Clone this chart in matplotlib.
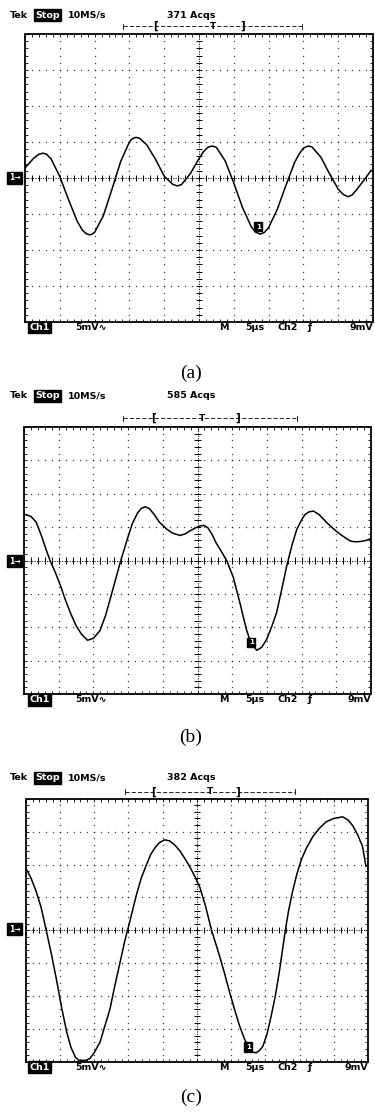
import matplotlib
matplotlib.use("Agg")
import matplotlib.pyplot as plt
import numpy as np

# ---------------- data (divisions: x 0..10, y -4..4) ----------------
xs_a = [0, 0.25, 0.4, 0.52, 0.62, 0.75, 1.0, 1.25, 1.5, 1.65, 1.75, 1.86, 1.93, 2.0, 2.25, 2.5,
        2.75, 3.0, 3.08, 3.19, 3.3, 3.5, 3.75, 4.0, 4.25, 4.38, 4.5, 4.75, 5.0, 5.12, 5.25,
        5.38, 5.5, 5.75, 6.0, 6.25, 6.5, 6.62, 6.76, 6.88, 7.0, 7.25, 7.5, 7.75, 7.88, 8.0,
        8.14, 8.25, 8.5, 8.75, 9.0, 9.15, 9.29, 9.4, 9.5, 9.75, 9.95]
ys_a = [0.28, 0.55, 0.66, 0.69, 0.66, 0.53, 0.04, -0.60, -1.20, -1.45, -1.54, -1.58, -1.56, -1.51, -1.05, -0.31,
        0.46, 1.00, 1.09, 1.13, 1.10, 0.92, 0.52, 0.05, -0.18, -0.22, -0.18, 0.12, 0.54, 0.72, 0.85,
        0.89, 0.85, 0.48, -0.14, -0.82, -1.35, -1.50, -1.56, -1.51, -1.38, -0.87, -0.20, 0.44, 0.67, 0.83,
        0.89, 0.86, 0.58, 0.12, -0.31, -0.46, -0.52, -0.47, -0.36, -0.05, 0.22]

xs_b = [0.03, 0.2, 0.35, 0.5, 0.62, 0.75, 0.9, 1.05, 1.2, 1.35, 1.5, 1.65, 1.83, 2.0, 2.19, 2.35,
        2.48, 2.63, 2.79, 2.98, 3.12, 3.27, 3.38, 3.49, 3.62, 3.75, 3.9, 4.1, 4.28, 4.5, 4.65,
        4.77, 4.95, 5.08, 5.19, 5.3, 5.42, 5.53, 5.7, 5.84, 6.03, 6.22, 6.41, 6.55, 6.71, 6.85,
        6.99, 7.15, 7.28, 7.42, 7.57, 7.72, 7.86, 8.0, 8.1, 8.22, 8.34, 8.5, 8.73, 8.95, 9.12,
        9.3, 9.41, 9.55, 9.7, 9.85, 9.99]
ys_b = [1.38, 1.32, 1.15, 0.75, 0.38, 0.0, -0.35, -0.75, -1.2, -1.6, -1.95, -2.2, -2.39, -2.33, -2.1, -1.65,
        -1.17, -0.6, 0.0, 0.65, 1.1, 1.42, 1.56, 1.61, 1.55, 1.38, 1.15, 0.95, 0.82, 0.75, 0.8,
        0.88, 0.98, 1.04, 1.05, 0.98, 0.78, 0.54, 0.25, 0.0, -0.5, -1.26, -2.07, -2.5, -2.69, -2.6,
        -2.37, -1.95, -1.56, -0.9, -0.17, 0.45, 0.93, 1.22, 1.38, 1.46, 1.48, 1.38, 1.13, 0.92, 0.78,
        0.65, 0.58, 0.56, 0.57, 0.6, 0.65]

xs_c = [0.03, 0.15, 0.3, 0.45, 0.6, 0.75, 0.9, 1.05, 1.2, 1.32, 1.45, 1.55, 1.75, 1.87, 2.0, 2.17,
        2.3, 2.46, 2.6, 2.75, 2.9, 3.0, 3.12, 3.24, 3.38, 3.53, 3.65, 3.77, 3.9, 4.06, 4.2, 4.35,
        4.5, 4.65, 4.79, 4.95, 5.09, 5.25, 5.43, 5.55, 5.67, 5.82, 5.96, 6.1, 6.25, 6.4, 6.54,
        6.63, 6.73, 6.83, 6.93, 7.05, 7.17, 7.3, 7.42, 7.57, 7.68, 7.8, 7.92, 8.05, 8.2, 8.39,
        8.58, 8.78, 9.0, 9.26, 9.42, 9.56, 9.7, 9.84, 9.94]
ys_c = [1.84, 1.6, 1.2, 0.7, 0.0, -0.72, -1.5, -2.35, -3.1, -3.55, -3.85, -3.95, -3.95, -3.9, -3.72, -3.4,
        -2.95, -2.4, -1.7, -1.0, -0.3, 0.1, 0.6, 1.1, 1.6, 2.0, 2.3, 2.5, 2.66, 2.75, 2.72, 2.6,
        2.42, 2.18, 1.94, 1.62, 1.3, 0.75, 0.0, -0.4, -0.8, -1.35, -1.89, -2.4, -2.91, -3.32, -3.6,
        -3.7, -3.72, -3.65, -3.52, -3.15, -2.61, -1.95, -1.19, -0.1, 0.6, 1.2, 1.7, 2.14, 2.5, 2.85,
        3.1, 3.3, 3.4, 3.45, 3.35, 3.17, 2.9, 2.55, 1.94]

acqs = ["371 Acqs", "585 Acqs", "382 Acqs"]
captions = ["(a)", "(b)", "(c)"]

# ---------------- layout (pixels) ----------------
W, H = 375, 1115
fig = plt.figure(figsize=(W / 100, H / 100), dpi=100)
fig.patch.set_facecolor("white")
ov = fig.add_axes([0, 0, 1, 1], zorder=5)
ov.set_xlim(0, W); ov.set_ylim(H, 0); ov.axis("off")
ov.patch.set_alpha(0)

panels = [
    dict(xs=xs_a, ys=ys_a, box=(25, 34, 373, 322), tek=15, brk=26,
         brk_pos=(123, 155, 213, 243, 302), bot=327.5, cap=373, cur=(6.7, -1.35), gnd=178),
    dict(xs=xs_b, ys=ys_b, box=(24, 427, 371, 694), tek=396, brk=418,
         brk_pos=(123, 153, 202, 238, 297), bot=700, cap=737, cur=(6.55, -2.45), gnd=561),
    dict(xs=xs_c, ys=ys_c, box=(25.7, 798.7, 368, 1062), tek=778, brk=791.5,
         brk_pos=(125, 153, 210, 238, 295), bot=1067, cap=1097, cur=(6.5, -3.55), gnd=929),
]

hdr_kw = dict(fontsize=6.8, fontweight="bold", family=["DejaVu Sans"], va="center")

for i, p in enumerate(panels):
    l, t, r, b = p["box"]
    ax = fig.add_axes([l / W, 1 - b / H, (r - l) / W, (b - t) / H])
    ax.set_xlim(0, 10); ax.set_ylim(-4, 4); ax.axis("off")
    ax.patch.set_alpha(0)
    # frame
    ax.plot([0, 10, 10, 0, 0], [-4, -4, 4, 4, -4], color="black", lw=1.3,
            clip_on=False, solid_joinstyle="miter")
    fine_x = np.arange(0, 10.01, 0.2)
    fine_y = np.arange(-4, 4.01, 0.2)
    # frame ticks (inward)
    ax.vlines(fine_x, 4 - 0.09, 4, color="black", lw=0.6)
    ax.vlines(fine_x, -4, -4 + 0.09, color="black", lw=0.6)
    ax.hlines(fine_y, 0, 0.09, color="black", lw=0.6)
    ax.hlines(fine_y, 10 - 0.09, 10, color="black", lw=0.6)
    # dotted grid
    for gx in range(1, 10):
        if gx == 5:
            continue
        ax.plot(np.full_like(fine_y, gx), fine_y, ls="none", marker="s",
                ms=0.9, color="black", mew=0, alpha=0.75)
    for gy in range(-3, 4):
        if gy == 0:
            continue
        ax.plot(fine_x, np.full_like(fine_x, gy), ls="none", marker="s",
                ms=0.9, color="black", mew=0, alpha=0.75)
    # center cross with ticks
    ax.plot([5, 5], [-4, 4], color="black", lw=0.6, ls=(0, (1.5, 1.5)))
    ax.plot([0, 10], [0, 0], color="black", lw=0.6, ls=(0, (1.5, 1.5)))
    ax.hlines(fine_y, 5 - 0.09, 5 + 0.09, color="black", lw=0.7)
    ax.vlines(fine_x, -0.09, 0.09, color="black", lw=0.7)
    # waveform
    ax.plot(p["xs"], p["ys"], color="black", lw=1.1, solid_joinstyle="round",
            solid_capstyle="round")
    # cursor marker "1"
    ax.text(p["cur"][0], p["cur"][1], "1", color="white", fontsize=5,
            fontweight="bold", ha="center", va="center",
            bbox=dict(boxstyle="square,pad=0.25", fc="black", ec="black"))

    # header
    ov.text(10, p["tek"], "Tek", ha="left", **hdr_kw)
    ov.text(35, p["tek"], "Stop", ha="left", color="white",
            bbox=dict(boxstyle="square,pad=0.12", fc="black", ec="black"), **hdr_kw)
    ov.text(68, p["tek"], "10MS/s", ha="left", **hdr_kw)
    ov.text(167, p["tek"], acqs[i], ha="left", **hdr_kw)
    x0, xl, xt, xr, x1 = p["brk_pos"]
    yb = p["brk"]
    ov.plot([x0, x1], [yb, yb], color="black", lw=0.6, ls=(0, (5, 2.5)))
    ov.plot([x0, x0], [yb - 2.5, yb + 2.5], color="black", lw=0.6)
    ov.plot([x1, x1], [yb - 2.5, yb + 2.5], color="black", lw=0.6)
    ov.text(xl, yb, "[", ha="center", va="center", fontsize=7.5, fontweight="bold")
    ov.text(xr, yb, "]", ha="center", va="center", fontsize=7.5, fontweight="bold")
    ov.text(xt, yb + 0.5, "T", ha="center", va="center", fontsize=6.5, fontweight="bold")

    # ground marker
    ov.text(9, p["gnd"], "1\u2192", ha="left", color="white", fontsize=5.5,
            fontweight="bold", va="center",
            bbox=dict(boxstyle="square,pad=0.2", fc="black", ec="black"))

    # bottom labels
    yb2 = p["bot"]
    ov.text(29, yb2, "Ch1", ha="left", color="white",
            bbox=dict(boxstyle="square,pad=0.12", fc="black", ec="black"), **hdr_kw)
    ov.text(75, yb2, "5mV\u223f", ha="left", **hdr_kw)
    ov.text(219, yb2, "M", ha="left", **hdr_kw)
    ov.text(245, yb2, "5\u00b5s", ha="left", **hdr_kw)
    ov.text(277, yb2, "Ch2", ha="left", **hdr_kw)
    ov.text(308, yb2, "\u0192", ha="left", **hdr_kw)
    ov.text(r, yb2, "9mV", ha="right", **hdr_kw)

    # caption
    ov.text(191, p["cap"], captions[i], ha="center", va="center", fontsize=14,
            family=["Liberation Serif"])

fig.savefig("out.png", dpi=100, facecolor="white")
